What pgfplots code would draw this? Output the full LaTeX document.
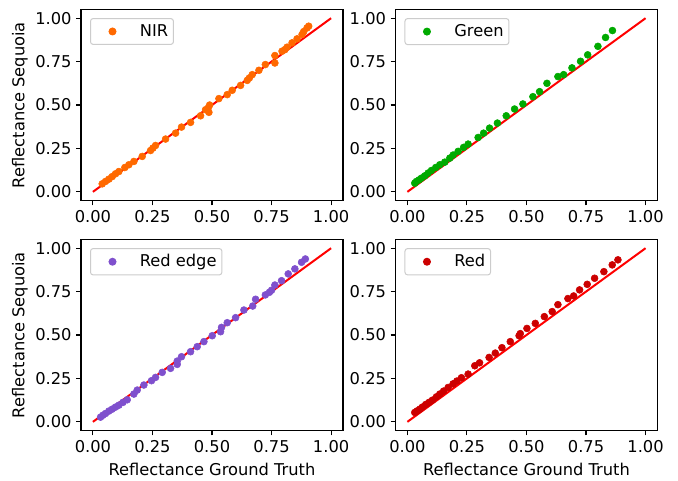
\documentclass[border=0pt]{standalone}
\usepackage{pgfplots}
\pgfplotsset{compat=1.18}
\usepackage{fontspec}
\setmainfont{DejaVu Sans}
\definecolor{cnir}{RGB}{255,105,0}
\definecolor{cgreen}{RGB}{0,170,0}
\definecolor{cedge}{RGB}{127,80,205}
\definecolor{cred}{RGB}{204,0,0}
\definecolor{cline}{RGB}{255,0,0}
\newcommand{\fnt}{\fontsize{12.2}{14}\selectfont}
\pgfplotsset{
  panel/.style={
    width=196.5pt, height=143.25pt, scale only axis, anchor=north west,
    xmin=-0.05, xmax=1.05, ymin=-0.05, ymax=1.05,
    xtick={0,0.25,0.5,0.75,1}, ytick={0,0.25,0.5,0.75,1},
    xticklabels={0.00,0.25,0.50,0.75,1.00},
    yticklabels={0.00,0.25,0.50,0.75,1.00},
    tick align=outside, xtick pos=left, ytick pos=left,
    major tick length=3.6pt,
    tick style={black, line width=0.83pt},
    axis line style={black, line width=0.83pt},
    ticklabel style={font=\fnt},
    every axis x label/.style={at={(axis description cs:0.5,0)}, anchor=center, yshift=-28.9pt, font=\fnt},
    every axis y label/.style={at={(axis description cs:-0.2328,0.5)}, rotate=90, anchor=center, font=\fnt},
    /pgf/number format/assume math mode=true,
    legend style={at={(axis description cs:0,1)}, anchor=north west,
      xshift=6.75pt, yshift=-6.4pt, draw=black!20, rounded corners=2pt,
      line width=0.75pt, fill=white, inner xsep=2pt, inner ysep=2.5pt,
      font=\fnt},
    legend cell align=left,
  },
  pts/.style={only marks, mark=*, mark size=2.6pt, draw=none, mark options={draw=none, fill=#1}, color=#1,
    legend image code/.code={\path (0pt,-3pt) rectangle (33pt,3pt);
      \draw[mark repeat=2,mark phase=2,##1] plot coordinates {(0pt,0pt) (14.5pt,0pt) (33pt,0pt)};}},
  diag/.style={cline, line width=1.5pt, no marks, forget plot},
}
\begin{document}
\begin{tikzpicture}
\useasboundingbox (0,0) rectangle (508.5pt,360.75pt);
% Top-left: NIR
\begin{axis}[panel, at={(60.75pt,353.6pt)}, ylabel={Reflectance Sequoia}]
\addplot[diag] coordinates {(0,0) (1,1)};
\addplot[pts=cnir] coordinates {
(0.039,0.046) (0.053,0.060) (0.067,0.073) (0.081,0.088) (0.095,0.104) (0.109,0.117)
(0.134,0.140) (0.151,0.156) (0.172,0.175) (0.207,0.204) (0.242,0.238) (0.252,0.252)
(0.263,0.267) (0.305,0.304) (0.347,0.338) (0.372,0.373) (0.410,0.400) (0.452,0.438)
(0.473,0.473) (0.484,0.483) (0.490,0.500) (0.487,0.458) (0.529,0.537) (0.564,0.560)
(0.585,0.585) (0.620,0.613) (0.648,0.642) (0.657,0.656) (0.669,0.675) (0.697,0.700)
(0.724,0.733) (0.764,0.742) (0.764,0.785) (0.794,0.810) (0.806,0.819) (0.815,0.833)
(0.836,0.858) (0.857,0.881) (0.878,0.906) (0.885,0.923) (0.899,0.944) (0.906,0.954)
};
\addlegendentry{NIR}
\end{axis}
% Top-right: Green
\begin{axis}[panel, at={(296.6pt,353.6pt)}]
\addplot[diag] coordinates {(0,0) (1,1)};
\addplot[pts=cgreen] coordinates {
(0.031,0.050) (0.038,0.060) (0.049,0.069) (0.059,0.079) (0.073,0.092) (0.087,0.108)
(0.101,0.123) (0.119,0.140) (0.136,0.156) (0.157,0.171) (0.178,0.194) (0.192,0.212)
(0.213,0.233) (0.236,0.256) (0.255,0.275) (0.297,0.313) (0.320,0.338) (0.345,0.367)
(0.378,0.396) (0.415,0.438) (0.450,0.477) (0.485,0.506) (0.527,0.548) (0.555,0.577)
(0.586,0.625) (0.632,0.664) (0.656,0.675) (0.691,0.714) (0.727,0.752) (0.757,0.789)
(0.800,0.838) (0.832,0.889) (0.861,0.929)
};
\addlegendentry{Green}
\end{axis}
% Bottom-left: Red edge
\begin{axis}[panel, at={(60.75pt,181.1pt)}, ylabel={Reflectance Sequoia}, xlabel={Reflectance Ground Truth}]
\addplot[diag] coordinates {(0,0) (1,1)};
\addplot[pts=cedge] coordinates {
(0.032,0.027) (0.042,0.038) (0.053,0.048) (0.067,0.062) (0.081,0.073) (0.095,0.085)
(0.109,0.096) (0.126,0.112) (0.144,0.127) (0.172,0.160) (0.186,0.183) (0.214,0.212)
(0.246,0.237) (0.263,0.256) (0.291,0.285) (0.326,0.308) (0.354,0.331) (0.354,0.350)
(0.372,0.375) (0.410,0.404) (0.438,0.433) (0.466,0.462) (0.501,0.496) (0.536,0.519)
(0.540,0.544) (0.564,0.571) (0.599,0.600) (0.634,0.644) (0.671,0.667) (0.683,0.706)
(0.724,0.731) (0.741,0.746) (0.750,0.758) (0.764,0.788) (0.792,0.813) (0.820,0.852)
(0.848,0.881) (0.876,0.919) (0.892,0.938)
};
\addlegendentry{Red edge}
\end{axis}
% Bottom-right: Red
\begin{axis}[panel, at={(296.6pt,181.1pt)}, xlabel={Reflectance Ground Truth}]
\addplot[diag] coordinates {(0,0) (1,1)};
\addplot[pts=cred] coordinates {
(0.031,0.054) (0.041,0.063) (0.052,0.073) (0.063,0.085) (0.077,0.100) (0.091,0.112)
(0.105,0.125) (0.122,0.144) (0.136,0.160) (0.152,0.177) (0.171,0.198) (0.192,0.219)
(0.208,0.235) (0.227,0.254) (0.255,0.275) (0.283,0.323) (0.303,0.340) (0.343,0.371)
(0.369,0.396) (0.397,0.427) (0.432,0.462) (0.469,0.496) (0.474,0.508) (0.502,0.538)
(0.537,0.567) (0.575,0.606) (0.608,0.635) (0.632,0.675) (0.674,0.710) (0.698,0.725)
(0.723,0.760) (0.755,0.792) (0.786,0.827) (0.825,0.865) (0.860,0.904) (0.884,0.933)
};
\addlegendentry{Red}
\end{axis}
\end{tikzpicture}
\end{document}
